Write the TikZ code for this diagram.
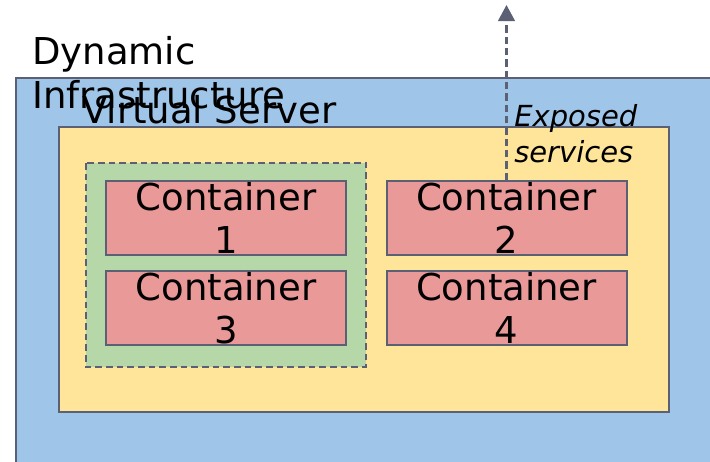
\documentclass[tikz,border=0pt]{standalone}
\usepackage{fontspec}
\setmainfont{DejaVu Sans}
\usetikzlibrary{arrows.meta}
\definecolor{infrablue}{HTML}{9FC5E8}
\definecolor{serveryellow}{HTML}{FFE599}
\definecolor{groupgreen}{HTML}{B6D7A8}
\definecolor{boxred}{HTML}{EA9999}
\definecolor{edgegray}{HTML}{5B6074}
% one drawing unit = 0.75pt
\tikzset{
  frame/.style={draw=edgegray, line width=1.5pt},
  container/.style={frame, fill=boxred, minimum width=180pt, minimum height=55.5pt,
    inner sep=0pt, align=center, font=\fontsize{27.75pt}{32.25pt}\selectfont},
  biglabel/.style={inner sep=0pt, align=left, font=\fontsize{27.75pt}{33pt}\selectfont},
  exposed/.style={draw=edgegray, line width=1.7pt, dash pattern=on 5.5pt off 3pt,
    -{Triangle[length=12pt, width=12.5pt]}}
}
\begin{document}
\begin{tikzpicture}[x=0.75pt, y=-0.75pt]
  \useasboundingbox (0,0) rectangle (710,461);
  \clip (0,0) rectangle (710,461);
  % host layers
  \path[frame, fill=infrablue] (16,78) rectangle (730,480);
  \path[frame, fill=serveryellow] (59,127) rectangle (669,412);
  \path[draw=edgegray, line width=1.5pt, dash pattern=on 5pt off 3pt, fill=groupgreen]
    (86,163) rectangle (366,367);
  % containers
  \node[container] (c1) at (226,218) {Container\\1};
  \node[container] (c2) at (506.5,218) {Container\\2};
  \node[container] (c3) at (226,308) {Container\\3};
  \node[container] (c4) at (506.5,308) {Container\\4};
  % layer titles (base anchor sits on the last line)
  \node[biglabel, anchor=base west] (infra) at (32,108) {Dynamic\\Infrastructure};
  \node[biglabel, anchor=base west] (vserver) at (82,123) {Virtual Server};
  % service exposure
  \coordinate (outside) at (506.5,5);
  \draw[exposed] (c2.north) -- (outside);
  \node[inner sep=0pt, align=left, anchor=base west,
    font=\fontsize{21.75pt}{27pt}\selectfont\itshape] (svc) at (514,162) {Exposed\\services};
\end{tikzpicture}
\end{document}
